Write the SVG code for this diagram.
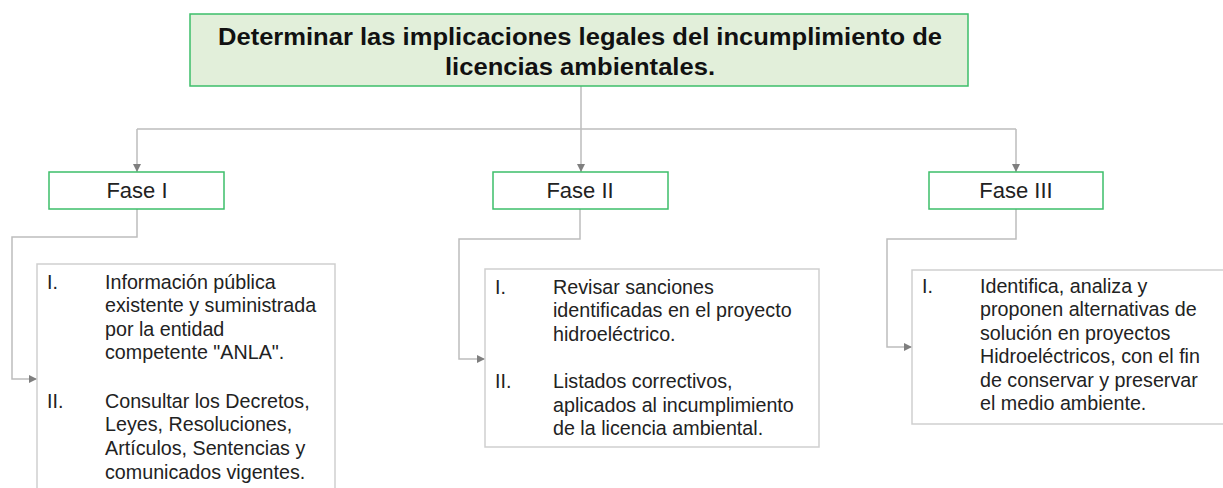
<svg xmlns="http://www.w3.org/2000/svg" width="1223" height="488" viewBox="0 0 1223 488">
<style>
.title{font-family:"Liberation Sans",Arial,sans-serif;font-weight:bold;font-size:23px;fill:#111;}
.fase{font-family:"Liberation Sans",Arial,sans-serif;font-size:22px;fill:#222;text-anchor:middle;}
.item{font-family:"Liberation Sans",Arial,sans-serif;font-size:19.7px;fill:#222;}
.gbox{fill:#fff;stroke:#3DBE6A;stroke-width:1.5;}
.dbox{fill:#fff;stroke:#CFCFCF;stroke-width:1.5;}
.conn{fill:none;stroke:#BDBDBD;stroke-width:1.5;}
</style>
<defs>
<marker id="arr" viewBox="0 0 10 10" refX="10" refY="5" markerWidth="8" markerHeight="8" markerUnits="userSpaceOnUse" orient="auto">
<path d="M0,0 L10,5 L0,10 z" fill="#7F7F7F"/>
</marker>
</defs>
<g id="connectors">
<path class="conn" d="M581,86 V129"/>
<path class="conn" d="M137,129 H1016"/>
<path class="conn" d="M137,129 V172" marker-end="url(#arr)"/>
<path class="conn" d="M581,129 V172" marker-end="url(#arr)"/>
<path class="conn" d="M1016,129 V172" marker-end="url(#arr)"/>
<path class="conn" d="M137,209 V237 H12 V379 H37" marker-end="url(#arr)"/>
<path class="conn" d="M580,209 V239 H459 V359 H485" marker-end="url(#arr)"/>
<path class="conn" d="M1016,209 V239 H887 V347 H912" marker-end="url(#arr)"/>
</g>
<g id="title">
<rect x="190" y="14" width="778" height="72" fill="#E2EFDA" stroke="#3DBE6A" stroke-width="1.5"/>
<text class="title" x="580" y="45" text-anchor="middle" textLength="724" lengthAdjust="spacingAndGlyphs">Determinar las implicaciones legales del incumplimiento de</text>
<text class="title" x="580" y="75" text-anchor="middle" textLength="270" lengthAdjust="spacingAndGlyphs">licencias ambientales.</text>
</g>
<g id="fase1">
<rect class="gbox" x="49" y="172" width="175" height="37"/>
<text class="fase" x="137" y="198">Fase I</text>
</g>
<g id="fase2">
<rect class="gbox" x="493" y="172" width="175" height="37"/>
<text class="fase" x="580" y="198">Fase II</text>
</g>
<g id="fase3">
<rect class="gbox" x="929" y="172" width="174" height="37"/>
<text class="fase" x="1016" y="198">Fase III</text>
</g>
<g id="detalle1">
<path class="dbox" d="M37,490 V264 H335 V490"/>
<text class="item" x="47" y="289">I.</text>
<text class="item" x="105" y="289">Información pública</text>
<text class="item" x="105" y="312">existente y suministrada</text>
<text class="item" x="105" y="336">por la entidad</text>
<text class="item" x="105" y="359">competente "ANLA".</text>
<text class="item" x="47" y="408">II.</text>
<text class="item" x="105" y="408">Consultar los Decretos,</text>
<text class="item" x="105" y="431">Leyes,  Resoluciones,</text>
<text class="item" x="105" y="455">Artículos, Sentencias y</text>
<text class="item" x="105" y="479">comunicados vigentes.</text>
</g>
<g id="detalle2">
<rect class="dbox" x="485" y="269" width="334" height="178"/>
<text class="item" x="495" y="294">I.</text>
<text class="item" x="553" y="294">Revisar sanciones</text>
<text class="item" x="553" y="317">identificadas en el proyecto</text>
<text class="item" x="553" y="341">hidroeléctrico.</text>
<text class="item" x="495" y="388">II.</text>
<text class="item" x="553" y="388">Listados correctivos,</text>
<text class="item" x="553" y="412">aplicados al incumplimiento</text>
<text class="item" x="553" y="435">de la licencia ambiental.</text>
</g>
<g id="detalle3">
<path class="dbox" d="M1225,270 H912 V424 H1225"/>
<text class="item" x="922" y="293">I.</text>
<text class="item" x="980" y="293">Identifica, analiza y</text>
<text class="item" x="980" y="316">proponen alternativas de</text>
<text class="item" x="980" y="340">solución en proyectos</text>
<text class="item" x="980" y="363">Hidroeléctricos, con el fin</text>
<text class="item" x="980" y="387">de conservar y preservar</text>
<text class="item" x="980" y="410">el medio ambiente.</text>
</g>
</svg>
